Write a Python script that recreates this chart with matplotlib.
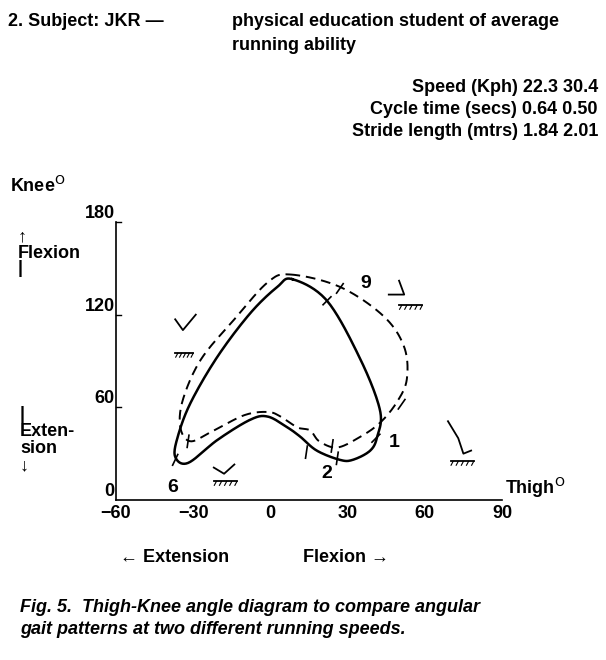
import numpy as np
import matplotlib.pyplot as plt

# thigh/knee angles (degrees)
solid_thigh = [8.5, 22, 35, 42.6, 41.5, 38.8, 32, 27, 18, 11.6, 6.6, -1, -7.8, -20.5, -32, -37, -36, -31, -20.5, -7.8, 2.7]
solid_knee = [143, 129, 91, 58, 41, 32, 26, 26, 32, 41, 47, 54, 52, 39, 24, 28, 41, 63, 93, 121, 138]
dash_thigh = [7.8, 27, 44, 52, 53, 49, 42.6, 35, 26, 19, 15.5, 10.5, 4, -1, -10, -22, -31, -35, -34, -27, -14, -1]
dash_knee = [146, 138, 119, 99, 78, 63, 50, 41, 34, 38, 45, 47, 54, 57, 55, 45, 38, 47, 65, 91, 117, 141]

xticks = [-60, -30, 0, 30, 60, 90]
yticks = [0, 60, 120, 180]


def closed_spline(xs, ys, n=20):
    p = np.column_stack([xs, ys])
    m = len(p)
    out = []
    for i in range(m):
        p0, p1, p2, p3 = p[i - 1], p[i], p[(i + 1) % m], p[(i + 2) % m]
        for t in np.linspace(0, 1, n, endpoint=False):
            out.append(0.5 * ((2 * p1) + (-p0 + p2) * t + (2 * p0 - 5 * p1 + 4 * p2 - p3) * t ** 2
                              + (-p0 + 3 * p1 - 3 * p2 + p3) * t ** 3))
    out.append(out[0])
    out = np.array(out)
    return out[:, 0], out[:, 1]


plt.rcParams['font.family'] = ['Liberation Sans', 'DejaVu Sans']
fig = plt.figure(figsize=(6.06, 6.60), dpi=100)
ax = fig.add_axes([116 / 606, 160 / 660, 386 / 606, 278 / 660])
ax.set_xlim(-60, 90)
ax.set_ylim(0, 180)
ax.axis('off')

# axes lines
ax.plot([-60, -60], [0, 180], color='black', lw=1.2, clip_on=False)
ax.plot([-60, 90], [0, 0], color='black', lw=1.2, clip_on=False)
for v in yticks[1:]:
    ax.plot([-60, -58], [v, v], color='black', lw=1, clip_on=False)
    ax.text(-60.5, v, str(v), ha='right', va='bottom', fontsize=13, fontweight='bold')
ax.text(-60.5, 0, '0', ha='right', va='bottom', fontsize=13, fontweight='bold')
for v in xticks:
    lab = '\u2212' + str(-v) if v < 0 else str(v)
    ax.text(v, -3, lab, ha='center', va='top', fontsize=13, fontweight='bold')

sx, sy = closed_spline(solid_thigh, solid_knee)
ax.plot(sx, sy, color='black', lw=1.8)
dx, dy = closed_spline(dash_thigh, dash_knee)
ax.plot(dx, dy, color='black', lw=1.4, ls=(0, (5, 3)))

# small cross ticks on the curves
for (x, y, a) in [(22, 129, 40), (41, 40, 40), (26, 27, 80), (14, 31, 80), (-37, 26, 60),
                  (27, 137, 50), (51, 62, 50), (24, 35, 80), (-32, 38, 80)]:
    r = np.deg2rad(a)
    ax.plot([x - 2 * np.cos(r), x + 2 * np.cos(r)], [y - 4 * np.sin(r), y + 4 * np.sin(r)],
            color='black', lw=1.2)

for lab, x, y in [('9', 37, 140), ('1', 48, 37), ('2', 22, 17), ('6', -38, 8)]:
    ax.text(x, y, lab, ha='center', va='center', fontsize=14, fontweight='bold')

# leg stick sketches
def sketch(pts, ground):
    p = np.array(pts)
    ax.plot(p[:, 0], p[:, 1], color='black', lw=1.3, clip_on=False)
    gx, gy, w = ground
    ax.plot([gx, gx + w], [gy, gy], color='black', lw=1.3, clip_on=False)
    for hx in np.linspace(gx + 1, gx + w, 5):
        ax.plot([hx, hx - 0.8], [gy, gy - 2.5], color='black', lw=0.8, clip_on=False)

sketch([(-37, 117), (-34, 110), (-29, 120)], (-37, 95, 7))
sketch([(50, 142), (52, 133), (46, 133)], (50, 126, 9))
sketch([(69, 51), (73, 40), (75, 30), (78, 32)], (70, 25, 9))
sketch([(-22, 21), (-18, 17), (-14, 23)], (-22, 12, 9))

ax.text(91, 0, 'Thigh$^{\\mathrm{O}}$', ha='left', va='bottom', fontsize=13, fontweight='bold')

# figure texts
fw = dict(fontsize=13, fontweight='bold')
fig.text(8 / 606, 1 - 22 / 660, '2. Subject: JKR \u2014', va='center', **fw)
fig.text(232 / 606, 1 - 22 / 660, 'physical education student of average', va='center', **fw)
fig.text(232 / 606, 1 - 45 / 660, 'running ability', va='center', **fw)
for i, s in enumerate(['Speed (Kph) 22.3 30.4', 'Cycle time (secs) 0.64 0.50', 'Stride length (mtrs) 1.84 2.01']):
    fig.text(598 / 606, 1 - (88 + 22 * i) / 660, s, ha='right', va='center', **fw)
fig.text(10 / 606, 1 - 186 / 660, 'Knee$^{\\mathrm{O}}$', va='center', **fw)
fig.text(18 / 606, 1 - 253 / 660, '\u2191\nFlexion\n|', va='center', ha='left', linespacing=0.9, **fw)
fig.text(20 / 606, 1 - 440 / 660, '|\nExten-\nsion\n\u2193', va='center', ha='left', linespacing=1.0, **fw)
fig.text(120 / 606, 1 - 557 / 660, '\u2190 Extension', va='center', **fw)
fig.text(303 / 606, 1 - 557 / 660, 'Flexion \u2192', va='center', **fw)
fi = dict(fontsize=13, fontweight='bold', style='italic')
fig.text(20 / 606, 1 - 608 / 660, 'Fig. 5.  Thigh-Knee angle diagram to compare angular', va='center', **fi)
fig.text(20 / 606, 1 - 630 / 660, 'gait patterns at two different running speeds.', va='center', **fi)

fig.savefig('out.png', dpi=100, facecolor='white')
